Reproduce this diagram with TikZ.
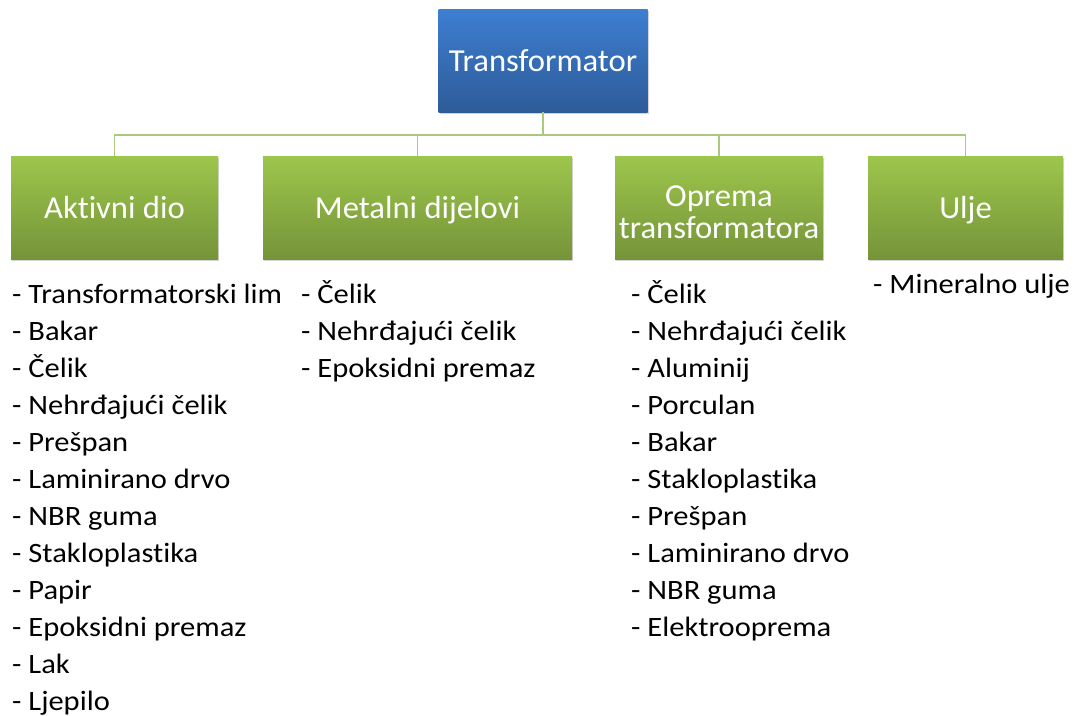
\documentclass[tikz,border=0pt]{standalone}
\usepackage{fontspec}
\setmainfont{Carlito}[Ligatures={NoCommon,NoRare}, Contextuals=NoAlternate]
\newfontfamily\boxfont{Carlito}[Ligatures={NoCommon,NoRare}, Contextuals=NoAlternate, FakeStretch=1.02]
\newfontfamily\listfont{Carlito}[Ligatures={NoCommon,NoRare}, Contextuals=NoAlternate, FakeStretch=1.09]
\usetikzlibrary{shadows}
\definecolor{bluetop}{HTML}{3D7FD2}
\definecolor{bluebot}{HTML}{2E5B98}
\definecolor{greentop}{HTML}{9DC64C}
\definecolor{greenbot}{HTML}{759439}
\definecolor{conn}{HTML}{A9C97E}
\tikzset{
  topbox/.style={rectangle, top color=bluetop, bottom color=bluebot, draw=none,
    text=white, font=\boxfont\fontsize{32}{33}\selectfont, align=center,
    text height=24pt, text depth=3pt,
    drop shadow={shadow xshift=1pt, shadow yshift=-2pt, opacity=0.35}},
  catbox/.style={rectangle, top color=greentop, bottom color=greenbot, draw=none,
    text=white, font=\boxfont\fontsize{32}{33}\selectfont, align=center,
    drop shadow={shadow xshift=1pt, shadow yshift=-2pt, opacity=0.35}},
  onel/.style={text height=24pt, text depth=3pt},
  listtxt/.style={anchor=base west, align=left, inner sep=0pt, text=black,
    font=\listfont\fontsize{28}{37}\selectfont},
  link/.style={draw=conn, line width=1.4pt}
}
\begin{document}
\begin{tikzpicture}[x=1pt,y=-1pt]
\useasboundingbox (0,0) rectangle (1075,715);
\node[topbox, minimum width=209pt, minimum height=103pt] (root) at (543,60.5) {Transformator};
\node[catbox, onel, minimum width=207pt, minimum height=103pt] (a) at (114.5,207.5) {Aktivni dio};
\node[catbox, onel, minimum width=309pt, minimum height=103pt] (b) at (417.5,207.5) {Metalni dijelovi};
\node[catbox, minimum width=208pt, minimum height=103pt] (c) at (719,207.5) {\rule{0pt}{30pt}Oprema\\[-1pt]transformatora};
\node[catbox, onel, minimum width=195pt, minimum height=103pt] (d) at (965.5,207.5) {Ulje};
\coordinate (j) at (543,135);
\draw[link] (root.south) -- (j);
\draw[link] (a.north) |- (j) -| (d.north);
\draw[link] (b.north) -- (b.north |- j);
\draw[link] (c.north) -- (c.north |- j);
\node[listtxt] (la) at (12,710) {- Transformatorski lim\\- Bakar\\- Čelik\\- Nehrđajući čelik\\- Prešpan\\- Laminirano drvo\\- NBR guma\\- Stakloplastika\\- Papir\\- Epoksidni premaz\\- Lak\\- Ljepilo};
\node[listtxt] (lb) at (301,377) {- Čelik\\- Nehrđajući čelik\\- Epoksidni premaz};
\node[listtxt] (lc) at (631,636) {- Čelik\\- Nehrđajući čelik\\- Aluminij\\- Porculan\\- Bakar\\- Stakloplastika\\- Prešpan\\- Laminirano drvo\\- NBR guma\\- Elektrooprema};
\node[listtxt] (ld) at (873,293) {- Mineralno ulje};
\end{tikzpicture}
\end{document}
